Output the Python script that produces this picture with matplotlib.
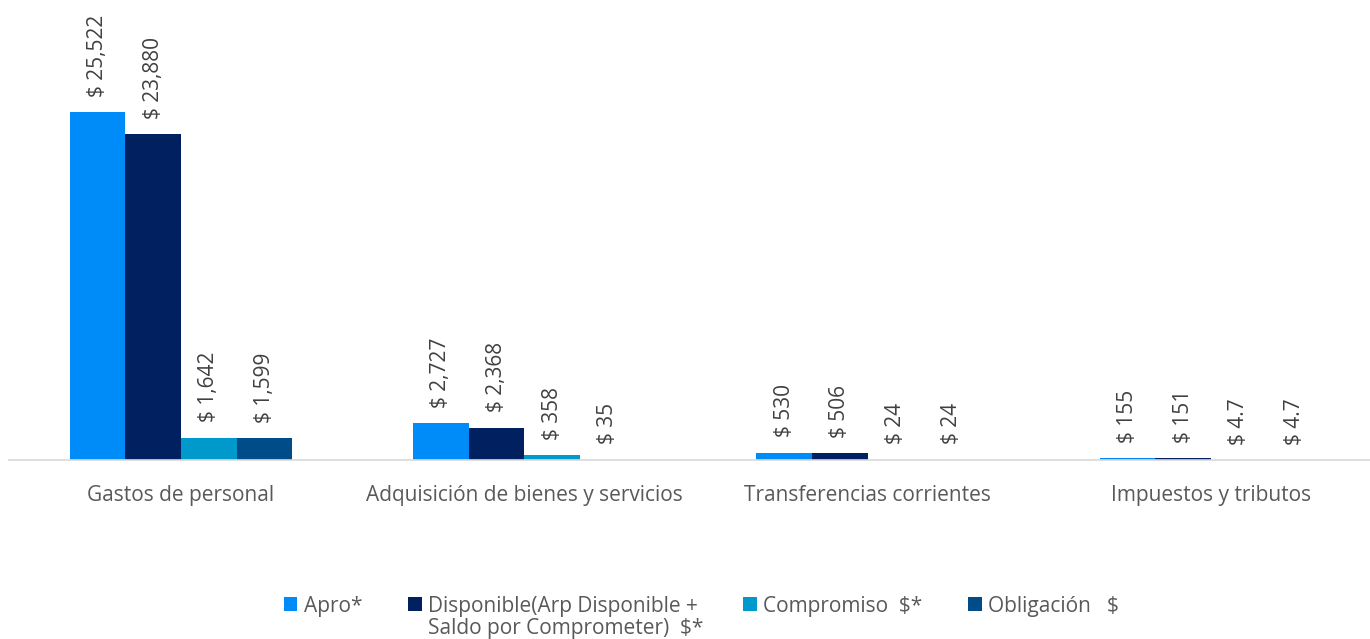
import matplotlib.pyplot as plt
import numpy as np

plt.rcParams['font.family'] = ['Open Sans', 'DejaVu Sans']

categorias = ["Gastos de personal", "Adquisición de bienes y servicios",
              "Transferencias corrientes", "Impuestos y tributos"]
series = ["Apro*", "Disponible(Arp Disponible +", "Compromiso  $*", "Obligación   $"]
serie2_linea2 = "Saldo por Comprometer)  $*"
apro = [25522, 2727, 530, 155]
disponible = [23880, 2368, 506, 151]
compromiso = [1642, 358, 24, 4.7]
obligacion = [1599, 35, 24, 4.7]
etiquetas = [
    ["$ 25,522", "$ 2,727", "$ 530", "$ 155"],
    ["$ 23,880", "$ 2,368", "$ 506", "$ 151"],
    ["$ 1,642", "$ 358", "$ 24", "$ 4.7"],
    ["$ 1,599", "$ 35", "$ 24", "$ 4.7"],
]
colores = ["#008CF8", "#002060", "#0099CC", "#004C88"]

W, H = 1370, 639
fig = plt.figure(figsize=(W / 100, H / 100), dpi=100)
ax = fig.add_axes([9.3 / W, 1 - 460 / H, (W - 9.3) / W, 460 / H])

x = np.arange(len(categorias))
w = 0.162
datos = [apro, disponible, compromiso, obligacion]
for i, (vals, col, nom) in enumerate(zip(datos, colores, series)):
    pos = x + (i - 1.5) * w
    ax.bar(pos, vals, w, color=col, label=nom)
    for p, v, t in zip(pos, vals, etiquetas[i]):
        ax.annotate(t, (p, v), xytext=(0, 11), textcoords="offset points",
                    rotation=90, ha="center", va="bottom",
                    fontsize=15, color="#404040")

ax.set_xlim(-0.5, 3 + (W - 1211) / 343.3)
ax.set_ylim(0, 25522 * 460 / 348)
ax.set_yticks([])
ax.set_xticks(x)
ax.set_xticklabels(categorias, fontsize=15, color="#595959")
ax.tick_params(axis="x", length=0, pad=18)
for s in ["top", "right", "left"]:
    ax.spines[s].set_visible(False)
ax.spines["bottom"].set_color("#D9D9D9")
ax.spines["bottom"].set_linewidth(1.2)

leg = fig.legend(loc="upper center", bbox_to_anchor=(0.512, 1 - 577 / H), ncol=4,
                 frameon=False, fontsize=15, handlelength=0.65, handleheight=0.65,
                 handletextpad=0.3, columnspacing=2.2, labelcolor="#595959")

# segunda linea de la etiqueta de "Disponible"
fig.canvas.draw()
bb = leg.get_texts()[1].get_window_extent()
fig.text(bb.x0 / W, (bb.y0 - 1) / H, serie2_linea2, ha="left", va="top",
         fontsize=15, color="#595959")

fig.savefig("out.png", dpi=100)
